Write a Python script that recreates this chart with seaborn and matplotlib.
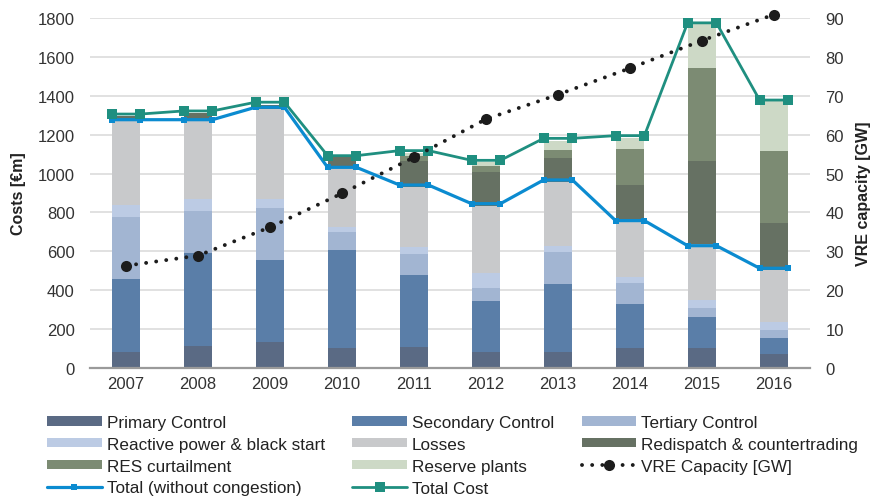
import numpy as np
import pandas as pd
import matplotlib
matplotlib.use("Agg")
import matplotlib.pyplot as plt
from matplotlib.patches import Patch
from matplotlib.lines import Line2D
import seaborn as sns

sns.set_style("white")
plt.rcParams["font.family"] = ["Liberation Sans", "DejaVu Sans"]

years = ["2007", "2008", "2009", "2010", "2011", "2012", "2013", "2014", "2015", "2016"]

# cost components [€m]
primary = [81, 115, 132, 103, 106, 81, 81, 101, 105, 70]
secondary = [377, 475, 425, 505, 372, 265, 351, 226, 157, 86]
tertiary = [320, 219, 266, 90, 108, 64, 163, 109, 47, 39]
reactive = [62, 59, 46, 29, 35, 77, 34, 30, 41, 40]
losses = [432, 404, 463, 305, 308, 348, 329, 283, 288, 269]
redispatch = [26, 40, 21, 52, 137, 175, 124, 194, 428, 242]
res_curtail = [0, 0, 0, 0, 26, 31, 41, 184, 477, 372]
reserve = [0, 0, 0, 0, 14, 17, 46, 54, 227, 254]

total_wo_congestion = [1277, 1277, 1341, 1032, 941, 845, 967, 758, 629, 513]
total_cost = [1306, 1322, 1367, 1092, 1118, 1068, 1181, 1195, 1775, 1378]
vre_capacity = [26.3, 28.9, 36.2, 44.9, 54.2, 64.0, 70.3, 77.1, 84.2, 90.9]

names = ["Primary Control", "Secondary Control", "Tertiary Control",
         "Reactive power & black start", "Losses", "Redispatch & countertrading",
         "RES curtailment", "Reserve plants"]
colors = ["#5a6a84", "#5a7ea8", "#a2b5d2", "#bccbe4", "#c8c9cb",
          "#667163", "#7c8b73", "#cdd9c6"]
c_blue = "#0b8bd0"
c_teal = "#1f8f80"
c_vre = "#1c1c1c"

df = pd.DataFrame(dict(zip(names, [primary, secondary, tertiary, reactive,
                                    losses, redispatch, res_curtail, reserve])),
                  index=years)
cum = df.cumsum(axis=1)

fig = plt.figure(figsize=(8.74, 5.02), dpi=100)
L, R = 90, 810
W = R - L
ax = fig.add_axes([L / 874, (502 - 369) / 502, W / 874, 350 / 502])

# stacked bars: draw cumulative totals from the top layer down
for name, col in reversed(list(zip(names, colors))):
    sns.barplot(x=years, y=cum[name].values, color=col, width=0.4,
                saturation=1, linewidth=0, ax=ax)

# total lines spanning each bar (points at the bar edges)
idx = np.arange(len(years))
xs = np.column_stack([idx - 0.2, idx + 0.2]).ravel()
sns.lineplot(x=xs, y=np.repeat(total_wo_congestion, 2), color=c_blue, lw=2.3,
             marker="s", markersize=4.5, markeredgewidth=0, estimator=None,
             sort=False, ax=ax, zorder=5)
sns.lineplot(x=xs, y=np.repeat(total_cost, 2), color=c_teal, lw=2.0,
             marker="s", markersize=6.5, markeredgewidth=0, estimator=None,
             sort=False, ax=ax, zorder=5)

ax.set_xlim(-0.5, 9.5)
ax.set_ylim(0, 1800)
ax.set_yticks(range(0, 1801, 200))
ax.yaxis.grid(True, color="#d9d9d9", lw=1.1)
ax.set_axisbelow(True)
for s in ["top", "left", "right"]:
    ax.spines[s].set_visible(False)
ax.spines["bottom"].set_color("#9a9a9a")
ax.spines["bottom"].set_linewidth(1.6)
ax.tick_params(axis="both", length=0, labelsize=12, colors="#333333")
ax.tick_params(axis="y", pad=11)
ax.tick_params(axis="x", pad=6)
ax.set_ylabel("Costs [€m]", fontsize=11.5, fontweight="bold", color="#222222")
ax.yaxis.set_label_coords((26 - L) / W, 0.5)

# VRE capacity on the right axis
ax2 = ax.twinx()
sns.lineplot(x=idx, y=vre_capacity, color=c_vre, lw=2.8,
             linestyle=(0, (0.01, 2.6)), dash_capstyle="round",
             marker="o", markersize=8, markeredgewidth=0, clip_on=False,
             estimator=None, sort=False, ax=ax2)
ax2.set_ylim(0, 90)
ax2.set_yticks(range(0, 91, 10))
ax2.grid(False)
for s in ["top", "left", "right", "bottom"]:
    ax2.spines[s].set_visible(False)
ax2.tick_params(axis="y", length=0, labelsize=12, colors="#333333", pad=11)
ax2.set_ylabel("VRE capacity [GW]", fontsize=11.5, fontweight="bold", color="#222222")
ax2.yaxis.set_label_coords((856 - L) / W, 0.5)

# legend (column-major order to give the row layout)
patch = {n: Patch(facecolor=c, edgecolor="none") for n, c in zip(names, colors)}
h_blue = Line2D([], [], color=c_blue, lw=2.3, marker="s", markersize=4.5, markeredgewidth=0)
h_teal = Line2D([], [], color=c_teal, lw=2.0, marker="s", markersize=6.5, markeredgewidth=0)
h_vre = Line2D([], [], color=c_vre, lw=2.8, linestyle=(0, (0.01, 2.6)),
               dash_capstyle="round", marker="o", markersize=8, markeredgewidth=0)
handles = [patch[names[0]], patch[names[3]], patch[names[6]], h_blue,
           patch[names[1]], patch[names[4]], patch[names[7]], h_teal,
           patch[names[2]], patch[names[5]], h_vre]
labels = [names[0], names[3], names[6], "Total (without congestion)",
          names[1], names[4], names[7], "Total Cost",
          names[2], names[5], "VRE Capacity [GW]"]
fig.legend(handles, labels, ncol=3, loc="upper left",
           bbox_to_anchor=(47 / 874, 1 - 416 / 502), frameon=False,
           fontsize=12.3, handlelength=3.2, handleheight=0.45,
           handletextpad=0.3, columnspacing=1.6, labelspacing=0.4,
           borderpad=0, borderaxespad=0, labelcolor="#222222")

fig.savefig("out.png", dpi=100)
